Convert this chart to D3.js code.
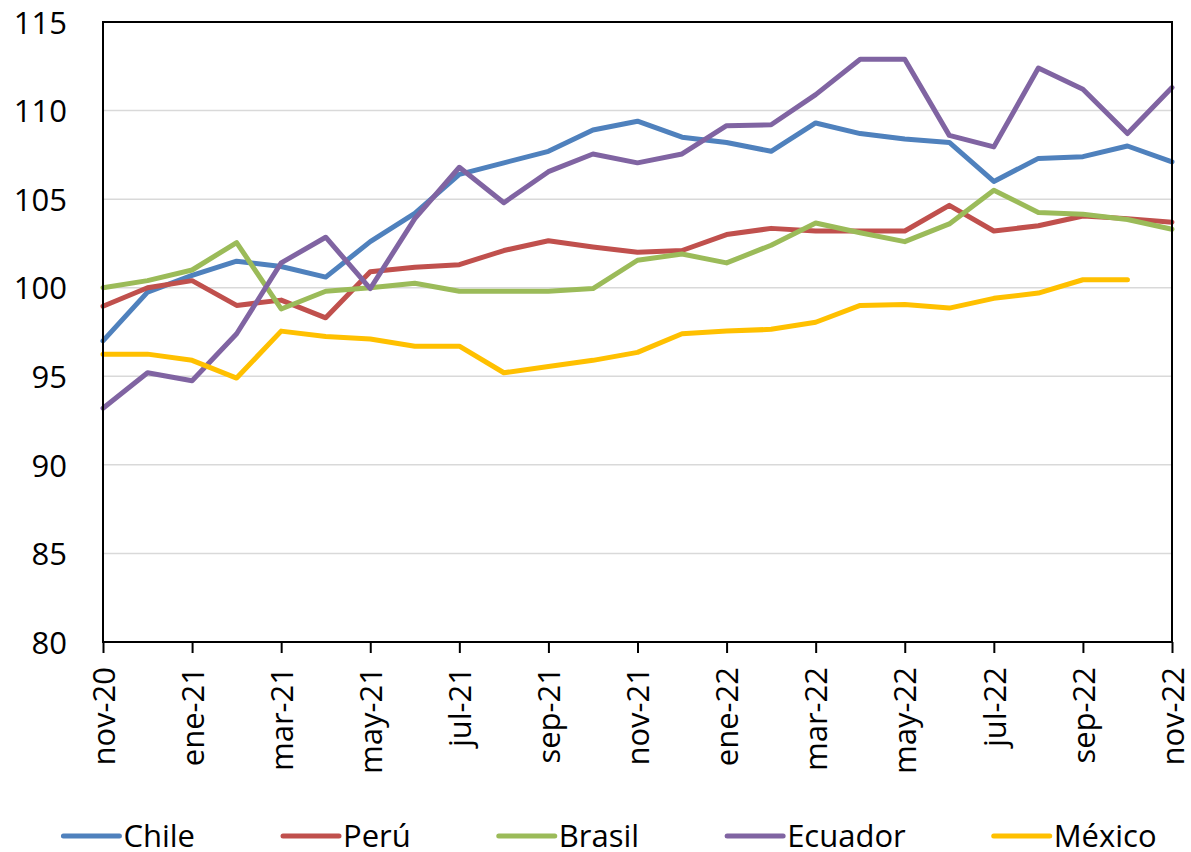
<!DOCTYPE html>
<html>
<head>
<meta charset="utf-8">
<script src="https://cdn.jsdelivr.net/npm/d3@7"></script>
<style>
  body { margin: 0; background: #fff; }
  text { font-family: "Open Sans", sans-serif; fill: #000; }
</style>
</head>
<body>
<div id="chart"></div>
<script>
// meses (eje x)
var months = ["nov-20","dic-20","ene-21","feb-21","mar-21","abr-21","may-21","jun-21","jul-21","ago-21","sep-21","oct-21",
              "nov-21","dic-21","ene-22","feb-22","mar-22","abr-22","may-22","jun-22","jul-22","ago-22","sep-22","oct-22","nov-22"];

var yTicks = [80, 85, 90, 95, 100, 105, 110, 115];

var chile   = [97.0, 99.75, 100.7, 101.5, 101.2, 100.6, 102.6, 104.2, 106.4, 107.05, 107.7, 108.9, 109.4, 108.5, 108.2, 107.7, 109.3, 108.7, 108.4, 108.2, 106.0, 107.3, 107.4, 108.0, 107.1];
var peru    = [98.95, 100.0, 100.4, 99.0, 99.3, 98.3, 100.9, 101.15, 101.3, 102.1, 102.65, 102.3, 102.0, 102.1, 103.0, 103.35, 103.2, 103.2, 103.2, 104.65, 103.2, 103.5, 104.05, 103.9, 103.7];
var brasil  = [100.0, 100.4, 101.0, 102.55, 98.8, 99.8, 100.0, 100.25, 99.8, 99.8, 99.8, 99.95, 101.55, 101.9, 101.4, 102.4, 103.65, 103.1, 102.6, 103.6, 105.5, 104.25, 104.15, 103.85, 103.3];
var ecuador = [93.2, 95.2, 94.75, 97.4, 101.4, 102.85, 99.95, 103.9, 106.8, 104.8, 106.55, 107.55, 107.05, 107.55, 109.15, 109.2, 110.9, 112.9, 112.9, 108.6, 107.95, 112.4, 111.2, 108.7, 111.3];
var mexico  = [96.25, 96.25, 95.9, 94.9, 97.55, 97.25, 97.1, 96.7, 96.7, 95.2, 95.55, 95.9, 96.35, 97.4, 97.55, 97.65, 98.05, 99.0, 99.05, 98.85, 99.4, 99.7, 100.45, 100.45, null];

var seriesNames  = ["Chile", "Perú", "Brasil", "Ecuador", "México"];
var seriesValues = [chile, peru, brasil, ecuador, mexico];
var seriesColors = ["#4f81bd", "#c0504d", "#9bbb59", "#8064a2", "#ffc000"];

var W = 1191, H = 852;
var margin = {top: 22, right: 19, bottom: 210, left: 103};
var width = W - margin.left - margin.right,
    height = H - margin.top - margin.bottom;

var svg = d3.select("#chart").append("svg")
    .attr("width", W)
    .attr("height", H);

var g = svg.append("g")
    .attr("transform", "translate(" + margin.left + "," + margin.top + ")");

var x = d3.scalePoint().domain(months).range([0, width]);
var y = d3.scaleLinear().domain([80, 115]).range([height, 0]);

// lineas de cuadricula
g.append("g")
    .selectAll("line")
    .data(yTicks.slice(1, -1))
    .enter().append("line")
    .attr("x1", 0).attr("x2", width)
    .attr("y1", function(d) { return y(d); })
    .attr("y2", function(d) { return y(d); })
    .attr("stroke", "#d9d9d9")
    .attr("stroke-width", 1.5);

// eje y
var yAxis = d3.axisLeft(y).tickValues(yTicks).tickSize(0).tickPadding(36);
g.append("g")
    .call(yAxis)
    .call(function(a) { a.select(".domain").remove(); })
    .selectAll("text")
    .style("font-size", "31px")
    .attr("dy", "0.36em");

// eje x
var xAxis = d3.axisBottom(x)
    .tickValues(months.filter(function(d, i) { return i % 2 === 0; }))
    .tickSize(11)
    .tickSizeOuter(0);
var xg = g.append("g")
    .attr("transform", "translate(0," + height + ")")
    .call(xAxis);
xg.select(".domain").remove();
xg.selectAll(".tick line").attr("stroke", "#000").attr("stroke-width", 2);
xg.selectAll("text")
    .style("font-size", "31px")
    .attr("text-anchor", "end")
    .attr("transform", "rotate(-90)")
    .attr("x", -25)
    .attr("y", 0)
    .attr("dy", "0.36em");

// series
var line = d3.line()
    .defined(function(d) { return d != null; })
    .x(function(d, i) { return x(months[i]); })
    .y(function(d) { return y(d); });

g.append("g")
    .selectAll("path")
    .data(seriesValues)
    .enter().append("path")
    .attr("d", line)
    .attr("fill", "none")
    .attr("stroke", function(d, i) { return seriesColors[i]; })
    .attr("stroke-width", 5)
    .attr("stroke-linejoin", "round")
    .attr("stroke-linecap", "round");

// marco
g.append("rect")
    .attr("width", width)
    .attr("height", height)
    .attr("fill", "none")
    .attr("stroke", "#000")
    .attr("stroke-width", 2);

// leyenda
var legend = svg.append("g").attr("transform", "translate(0,836)");
var items = legend.selectAll("g")
    .data(seriesNames)
    .enter().append("g");
items.append("line")
    .attr("x1", 0).attr("x2", 56)
    .attr("stroke", function(d, i) { return seriesColors[i]; })
    .attr("stroke-width", 5)
    .attr("stroke-linecap", "round");
items.append("text")
    .attr("x", 60)
    .attr("dy", "0.36em")
    .style("font-size", "31px")
    .text(function(d) { return d; });

var pos = 0, starts = [];
items.each(function() {
    starts.push(pos);
    pos += 60 + this.querySelector("text").getComputedTextLength() + 88;
});
var total = pos - 88;
var x0 = 610 - total / 2;
items.attr("transform", function(d, i) { return "translate(" + (x0 + starts[i]) + ",0)"; });
</script>
</body>
</html>
